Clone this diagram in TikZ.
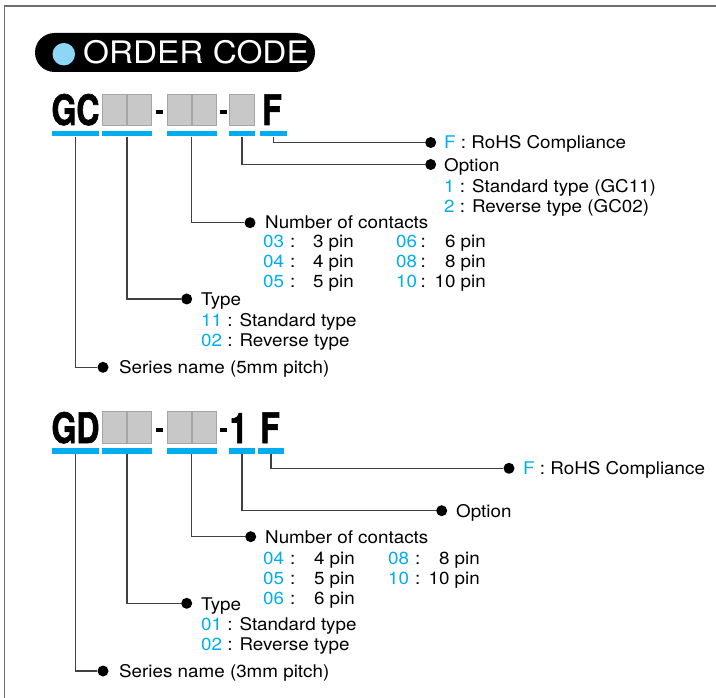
\documentclass[tikz,border=0pt]{standalone}
\usepackage{fontspec}
\newfontfamily\txtfont{TeX Gyre Heros}[FakeStretch=1.075]
\newfontfamily\codefont{TeX Gyre Heros}[FakeStretch=0.76,FakeBold=1.5]
\definecolor{cy}{RGB}{0,174,239}
\definecolor{tc}{RGB}{141,214,245}
\definecolor{slotfill}{RGB}{200,200,200}
\definecolor{slotedge}{RGB}{165,165,165}
\definecolor{framec}{RGB}{110,110,110}
\newcommand\cy[1]{\textcolor{cy}{#1}}
\tikzset{
 txt/.style={font=\txtfont\fontsize{17.5}{21}\selectfont, inner sep=0pt, anchor=base west, text=black},
 code/.style={font=\codefont\bfseries\fontsize{42}{42}\selectfont, inner sep=0pt, anchor=base},
 bar/.style={fill=cy, inner sep=0pt, minimum height=5.5pt, draw=none},
 slot/.style={fill=slotfill, draw=slotedge, line width=0.8pt, inner sep=0pt, minimum width=24.5pt, minimum height=31.5pt},
 hyph/.style={fill=black, inner sep=0pt, minimum width=7pt, minimum height=4pt},
 bdot/.style={circle, fill=black, inner sep=0pt, minimum size=11pt},
 conn/.style={draw=black!75, line width=1.1pt},
}
\newcommand\pinrow[7]{%
 \node[txt] (#1c) at (#3,#2) {\cy{#4}};
 \node[txt] (#1k) at (#5,#2) {:};
 \node[txt,anchor=base east] (#1p) at (#6,#2) {#7};}
\begin{document}
\begin{tikzpicture}[x=1pt,y=-1pt]
\useasboundingbox (0,0) rectangle (716,698);
% frame
\draw[framec, line width=1.8pt] (4.5,698) -- (4.5,6) -- (716,6);
% title
\node[fill=black, rounded corners=19.5pt, minimum width=280pt, minimum height=39pt, inner sep=0pt] (title) at (175,52.5) {};
\node[circle, fill=tc, minimum size=22.5pt, inner sep=0pt] (tdot) at (63.8,54.2) {};
\node[font=\txtfont\fontsize{31}{31}\selectfont, text=white, inner sep=0pt, anchor=base west] (ttext) at (83,64) {ORDER CODE};

% ===== block 1 =====
\node[code] (gc) at (75.5,125) {GC};
\node[slot] (s11) at (114.5,110) {};
\node[slot] (s12) at (139.5,110) {};
\node[hyph] (h11) at (159,112) {};
\node[slot] (s13) at (179.5,110) {};
\node[slot] (s14) at (204.5,110) {};
\node[hyph] (h12) at (223.5,112) {};
\node[slot] (s15) at (242,110) {};
\node[code] (f1) at (272,125) {F};
\node[bar, minimum width=47pt] (a1) at (75.5,133.75) {};
\node[bar, minimum width=50pt] (a2) at (127,133.75) {};
\node[bar, minimum width=50pt] (a3) at (191.5,133.75) {};
\node[bar, minimum width=26pt] (a4) at (242,133.75) {};
\node[bar, minimum width=27pt] (a5) at (273.5,133.75) {};

\node[bdot] (d15) at (430.7,142.5) {};
\node[txt] (t15) at (444,148.5) {\cy{F} : RoHS Compliance};
\node[bdot] (d14) at (430.7,164.5) {};
\node[txt] (t14) at (444,171.5) {Option};
\node[txt] (t14a) at (444,192.5) {\cy{1} : Standard type (GC11)};
\node[txt] (t14b) at (444,212.5) {\cy{2} : Reverse type (GC02)};
\node[bdot] (d13) at (250,222.7) {};
\node[txt] (t13) at (265,228.5) {Number of contacts};
\pinrow{r03}{247.5}{263}{03}{290}{354}{3 pin}
\pinrow{r04}{267.5}{263}{04}{290}{354}{4 pin}
\pinrow{r05}{287.5}{263}{05}{290}{354}{5 pin}
\pinrow{r06}{247.5}{396}{06}{420.5}{486}{6 pin}
\pinrow{r08}{267.5}{396}{08}{420.5}{486}{8 pin}
\pinrow{r10}{287.5}{396}{10}{420.5}{486}{10 pin}
\node[bdot] (d12) at (186.7,299) {};
\node[txt] (t12) at (201,305.5) {Type};
\node[txt] (t12a) at (201,326.7) {\cy{11} : Standard type};
\node[txt] (t12b) at (201,346.7) {\cy{02} : Reverse type};
\node[bdot] (d11) at (103,367.3) {};
\node[txt] (t11) at (119,373.7) {Series name (5mm pitch)};

\draw[conn] (a5.south) |- (d15);
\draw[conn] (a4.south) |- (d14);
\draw[conn] (a3.south) |- (d13);
\draw[conn] (a2.south) |- (d12);
\draw[conn] (a1.south) |- (d11);

% ===== block 2 =====
\node[code] (gd) at (75.5,443) {GD};
\node[slot] (s21) at (114.5,427.5) {};
\node[slot] (s22) at (139.5,427.5) {};
\node[hyph] (h21) at (159,430) {};
\node[slot] (s23) at (179.5,427.5) {};
\node[slot] (s24) at (204.5,427.5) {};
\node[hyph] (h22) at (223.5,430) {};
\node[code] (one) at (238.7,443) {1};
\node[code] (f2) at (270,443) {F};
\node[bar, minimum width=47pt] (b1) at (75.5,450.75) {};
\node[bar, minimum width=50pt] (b2) at (127,450.75) {};
\node[bar, minimum width=50pt] (b3) at (191.5,450.75) {};
\node[bar, minimum width=26pt] (b4) at (242,450.75) {};
\node[bar, minimum width=26pt] (b5) at (271,450.75) {};

\node[bdot] (d25) at (509,468.3) {};
\node[txt] (t25) at (523,474.8) {\cy{F} : RoHS Compliance};
\node[bdot] (d24) at (441.7,510.7) {};
\node[txt] (t24) at (456,517.3) {Option};
\node[bdot] (d23) at (250.7,536.7) {};
\node[txt] (t23) at (265,543) {Number of contacts};
\pinrow{q04}{564}{263}{04}{290}{355}{4 pin}
\pinrow{q05}{584}{263}{05}{290}{355}{5 pin}
\pinrow{q06}{604}{263}{06}{290}{355}{6 pin}
\pinrow{q08}{564}{388}{08}{415}{480}{8 pin}
\pinrow{q10}{584}{388}{10}{415}{480}{10 pin}
\node[bdot] (d22) at (186.7,603.3) {};
\node[txt] (t22) at (201,610) {Type};
\node[txt] (t22a) at (201,630) {\cy{01} : Standard type};
\node[txt] (t22b) at (201,650) {\cy{02} : Reverse type};
\node[bdot] (d21) at (103,671) {};
\node[txt] (t21) at (119,677) {Series name (3mm pitch)};

\draw[conn] (b5.south) |- (d25);
\draw[conn] (b4.south) |- (d24);
\draw[conn] (b3.south) |- (d23);
\draw[conn] (b2.south) |- (d22);
\draw[conn] (b1.south) |- (d21);
\end{tikzpicture}
\end{document}
